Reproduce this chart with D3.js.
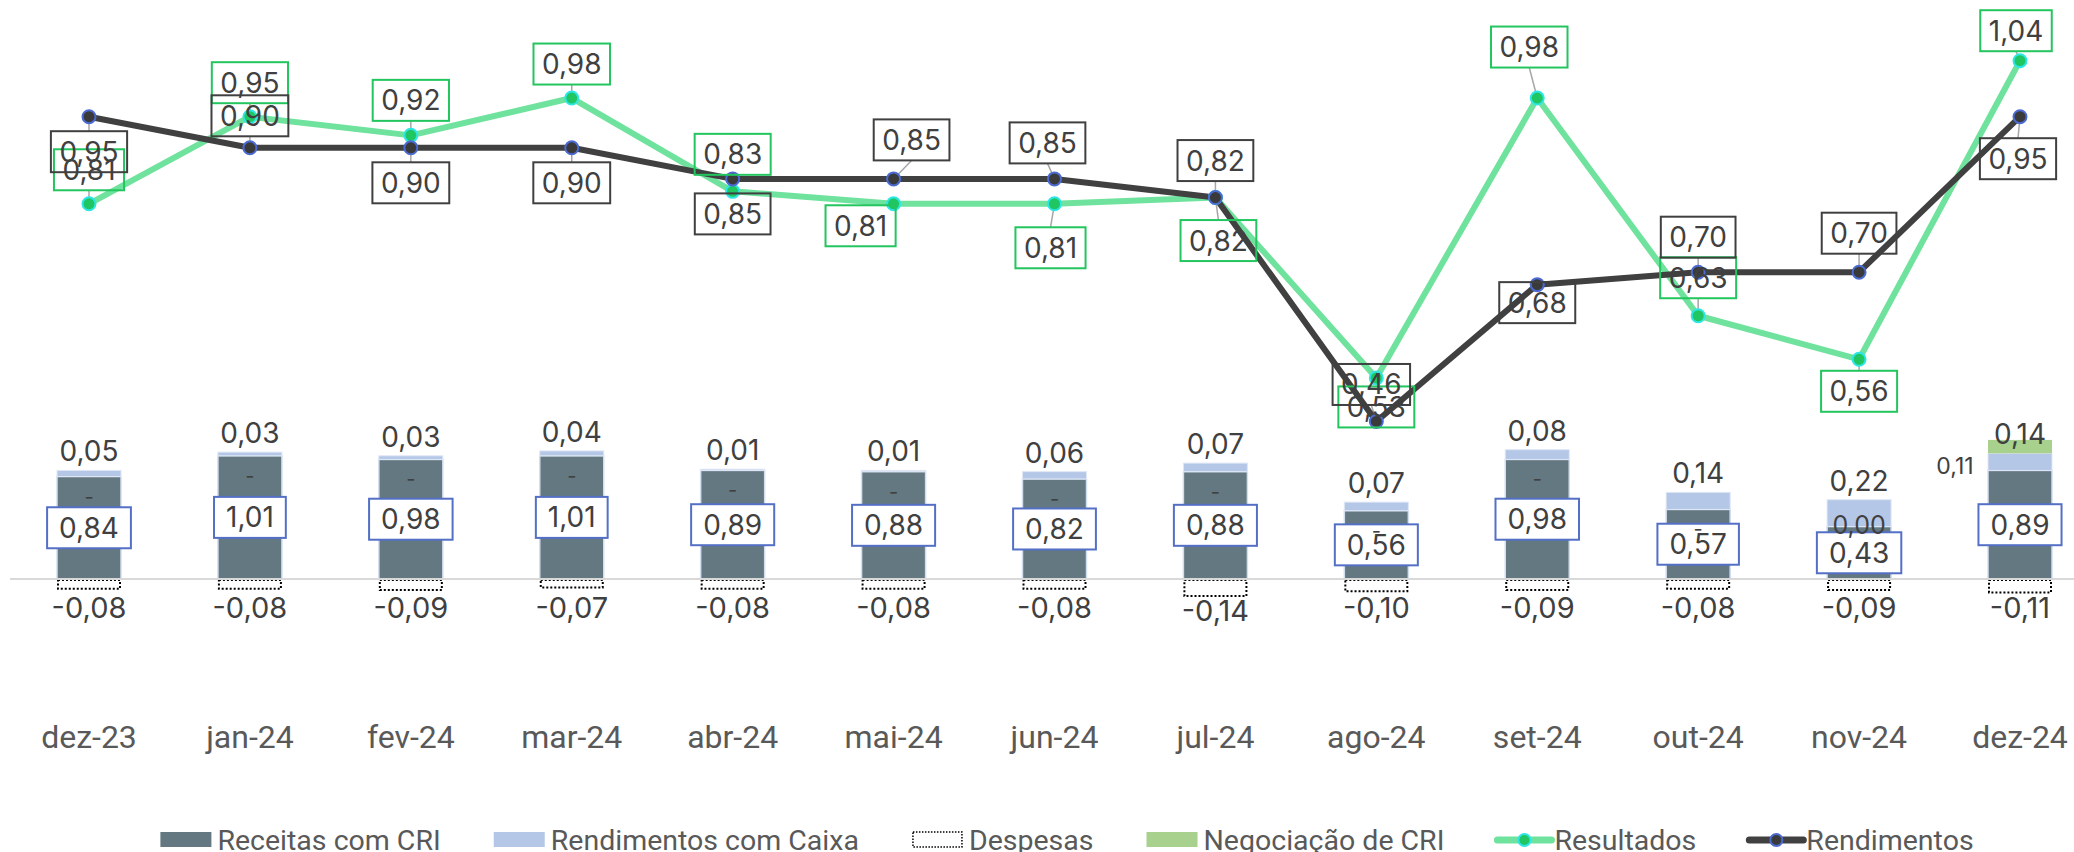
<!DOCTYPE html>
<html>
<head>
<meta charset="utf-8">
<script src="https://cdn.jsdelivr.net/npm/d3@7"></script>
<style>
  body { margin: 0; background: #fff; }
  svg { display: block; }
</style>
</head>
<body>
<script>
// categories
var months = ["dez-23", "jan-24", "fev-24", "mar-24", "abr-24", "mai-24", "jun-24",
              "jul-24", "ago-24", "set-24", "out-24", "nov-24", "dez-24"];

// stacked bars (R$ por cota)
var receitasCRI = [0.84, 1.01, 0.98, 1.01, 0.89, 0.88, 0.82, 0.88, 0.56, 0.98, 0.57, 0.43, 0.89];
var rendCaixa   = [0.05, 0.03, 0.03, 0.04, 0.01, 0.01, 0.06, 0.07, 0.07, 0.08, 0.14, 0.22, 0.14];
var despesas    = [-0.08, -0.08, -0.09, -0.07, -0.08, -0.08, -0.08, -0.14, -0.10, -0.09, -0.08, -0.09, -0.11];
var negociacao  = [0, 0, 0, 0, 0, 0, 0, 0, 0, 0, 0, 0.004, 0.11];

// lines
var resultados  = [0.81, 0.95, 0.92, 0.98, 0.83, 0.81, 0.81, 0.82, 0.53, 0.98, 0.63, 0.56, 1.04];
var rendimentos = [0.95, 0.90, 0.90, 0.90, 0.85, 0.85, 0.85, 0.82, 0.46, 0.68, 0.70, 0.70, 0.95];

// where the line labels sit relative to their point (px)
var resLabelDx  = [0, 0, 0, 0, 0, -33, -4, 3, 0, -8, 0, 0, -4];
var resLabelDy  = [-34, -34, -35, -34, -37, 22, 44, 43, 29, -51, -38, 32, -30];
var rendLabelDx = [0, 0, 0, 0, 0, 18, -7, 0, -5, 0, 0, 0, -2];
var rendLabelDy = [35, -32, 35, 35, 35, -39, -36, -37, -37, 18, -35, -39, 42];

var legendItems = ["Receitas com CRI", "Rendimentos com Caixa", "Despesas",
                   "Negociação de CRI", "Resultados", "Rendimentos"];

var w = 2074, h = 852;
var labelFont = "Inter, 'Noto Sans', sans-serif";
var axisFont = "Roboto, 'Liberation Sans', sans-serif";
var textColor = "#404040";

function fmt(v) {
    return (v < 0 ? "-" : "") + Math.abs(v).toFixed(2).replace(".", ",");
}

var svg = d3.select("body").append("svg")
    .attr("width", w)
    .attr("height", h);

// scales
var x = d3.scalePoint().domain(months).range([89, 2020]);
var barW = 64;
var yBar = d3.scaleLinear().domain([0, 1]).range([579, 457]);
var yLine = d3.scaleLinear().domain([0, 1]).range([707.6, 85.6]);

// stacked bars
var bars = svg.append("g");
months.forEach(function (m, i) {
    var cx = x(m);
    var top1 = yBar(receitasCRI[i]);
    var top2 = yBar(receitasCRI[i] + rendCaixa[i]);
    var top3 = yBar(receitasCRI[i] + rendCaixa[i] + negociacao[i]);

    bars.append("rect")
        .attr("x", cx - barW / 2).attr("y", top1)
        .attr("width", barW).attr("height", yBar(0) - top1)
        .attr("fill", "#637880")
        .attr("stroke", "#d3ddf0").attr("stroke-width", 1.5);
    bars.append("rect")
        .attr("x", cx - barW / 2).attr("y", top2)
        .attr("width", barW).attr("height", top1 - top2)
        .attr("fill", "#b4c7e7")
        .attr("stroke", "#dfe7f5").attr("stroke-width", 1);
    if (top2 - top3 > 0.5) {
        bars.append("rect")
            .attr("x", cx - barW / 2).attr("y", top3)
            .attr("width", barW).attr("height", top2 - top3)
            .attr("fill", "#a9d18e");
    }
    // despesas (negative)
    bars.append("rect")
        .attr("x", cx - barW / 2 + 1).attr("y", yBar(0) + 1)
        .attr("width", barW - 2).attr("height", yBar(despesas[i]) - yBar(0) - 1)
        .attr("fill", "#fff")
        .attr("stroke", "#000").attr("stroke-width", 2)
        .attr("stroke-dasharray", "2,2");
});

// baseline
svg.append("line")
    .attr("x1", 10).attr("x2", w)
    .attr("y1", yBar(0)).attr("y2", yBar(0))
    .attr("stroke", "#d9d9d9").attr("stroke-width", 2);

// bar labels
var barLabels = svg.append("g")
    .attr("font-family", labelFont)
    .attr("fill", textColor)
    .attr("text-anchor", "middle")
    .attr("dominant-baseline", "central");

// receitas com CRI (boxed) first, the other labels go over them
months.forEach(function (m, i) {
    var top1 = yBar(receitasCRI[i]);
    var g = barLabels.append("g")
        .attr("transform", "translate(" + x(m) + "," + (top1 + yBar(0)) / 2 + ")");
    var t = g.append("text").attr("font-size", 28).text(fmt(receitasCRI[i]));
    var tw = t.node().getComputedTextLength() + 24;
    g.insert("rect", "text")
        .attr("x", -tw / 2).attr("y", -20.5)
        .attr("width", tw).attr("height", 41)
        .attr("fill", "#fff")
        .attr("stroke", "#5470c6").attr("stroke-width", 2);
});

months.forEach(function (m, i) {
    var cx = x(m);
    var top1 = yBar(receitasCRI[i]);
    var top2 = yBar(receitasCRI[i] + rendCaixa[i]);
    var top3 = yBar(receitasCRI[i] + rendCaixa[i] + negociacao[i]);

    // negociação
    if (negociacao[i] === 0) {
        barLabels.append("text").attr("x", cx).attr("y", top1 + 20)
            .attr("font-size", 20).text("-");
    } else if (top2 - top3 > 8) {
        barLabels.append("text").attr("x", cx - 65).attr("y", top1 - 4)
            .attr("font-size", 23).text(fmt(negociacao[i]));
    } else {
        barLabels.append("text").attr("x", cx).attr("y", top1 - 2)
            .attr("font-size", 25).text(fmt(negociacao[i]));
    }

    // rendimentos com caixa
    barLabels.append("text").attr("x", cx).attr("y", top2 - 19)
        .attr("font-size", 28).text(fmt(rendCaixa[i]));

    // despesas
    barLabels.append("text").attr("x", cx).attr("y", Math.max(yBar(despesas[i]) + 14, 607))
        .attr("font-size", 29).text(fmt(despesas[i]));
});

// lines
var series = [
    { name: "Resultados", values: resultados, dx: resLabelDx, dy: resLabelDy,
      line: "#6fe39d", dotFill: "#1fc662", dotStroke: "#2ee6e6", box: "#23c55e", width: 6 },
    { name: "Rendimentos", values: rendimentos, dx: rendLabelDx, dy: rendLabelDy,
      line: "#404040", dotFill: "#3a3a3a", dotStroke: "#4b6bd3", box: "#404040", width: 6 }
];

var line = d3.line()
    .x(function (d, i) { return x(months[i]); })
    .y(function (d) { return yLine(d); });

// leader lines
var leaders = svg.append("g");
series.forEach(function (s) {
    s.values.forEach(function (v, i) {
        var dx = s.dx[i], dy = s.dy[i];
        if (Math.abs(dy) - 20.5 > 10 || dx !== 0) {
            var px = x(months[i]), py = yLine(v);
            leaders.append("line")
                .attr("x1", px).attr("y1", py)
                .attr("x2", px + dx).attr("y2", py + dy + (dy < 0 ? 20.5 : -20.5))
                .attr("stroke", "#a6a6a6").attr("stroke-width", 1.5);
        }
    });
});

series.forEach(function (s) {
    svg.append("path")
        .datum(s.values)
        .attr("d", line)
        .attr("fill", "none")
        .attr("stroke", s.line)
        .attr("stroke-width", s.width)
        .attr("stroke-linejoin", "round");
});

series.forEach(function (s) {
    svg.append("g").selectAll("circle")
        .data(s.values).enter().append("circle")
        .attr("cx", function (d, i) { return x(months[i]); })
        .attr("cy", function (d) { return yLine(d); })
        .attr("r", 6.5)
        .attr("fill", s.dotFill)
        .attr("stroke", s.dotStroke)
        .attr("stroke-width", 2);
});

// line labels (boxes without fill)
series.forEach(function (s) {
    var lg = svg.append("g")
        .attr("font-family", labelFont)
        .attr("fill", textColor)
        .attr("text-anchor", "middle")
        .attr("dominant-baseline", "central");
    s.values.forEach(function (v, i) {
        var g = lg.append("g")
            .attr("transform", "translate(" + (x(months[i]) + s.dx[i]) + "," + (yLine(v) + s.dy[i]) + ")");
        var t = g.append("text").attr("font-size", 28).text(fmt(v));
        var tw = t.node().getComputedTextLength() + 17;
        g.insert("rect", "text")
            .attr("x", -tw / 2).attr("y", -20.5)
            .attr("width", tw).attr("height", 41)
            .attr("fill", "none")
            .attr("stroke", s.box).attr("stroke-width", 2);
    });
});

// x axis labels
svg.append("g").selectAll("text")
    .data(months).enter().append("text")
    .attr("x", function (d) { return x(d); })
    .attr("y", 737)
    .attr("text-anchor", "middle")
    .attr("dominant-baseline", "central")
    .attr("font-family", axisFont)
    .attr("font-size", 32)
    .attr("fill", "#595959")
    .text(function (d) { return d; });

// legend
var legend = svg.append("g")
    .attr("font-family", axisFont)
    .attr("font-size", 28.5)
    .attr("fill", "#595959");
var lx = 0;
legendItems.forEach(function (name, i) {
    var g = legend.append("g").attr("transform", "translate(" + lx + ",0)");
    if (i < 4) {
        var r = g.append("rect").attr("x", 0).attr("y", -8).attr("width", 51).attr("height", 15);
        if (i === 0) r.attr("fill", "#637880");
        if (i === 1) r.attr("fill", "#b4c7e7");
        if (i === 2) r.attr("fill", "#fff").attr("stroke", "#000").attr("stroke-width", 1.5)
                       .attr("stroke-dasharray", "1.5,1.5").attr("x", 1).attr("width", 49);
        if (i === 3) r.attr("fill", "#a9d18e");
    } else {
        var s = series[i - 4];
        g.append("line").attr("x1", 0).attr("x2", 54).attr("y1", 0).attr("y2", 0)
            .attr("stroke", s.line).attr("stroke-width", 7).attr("stroke-linecap", "round");
        g.append("circle").attr("cx", 27).attr("cy", 0).attr("r", 6)
            .attr("fill", s.dotFill).attr("stroke", s.dotStroke).attr("stroke-width", 2);
    }
    var t = g.append("text").attr("x", 57).attr("y", 0)
        .attr("dominant-baseline", "central").text(name);
    lx += 57 + t.node().getComputedTextLength() + 53;
});
var legendW = lx - 53;
legend.attr("transform", "translate(" + (1067 - legendW / 2) + ",840)");
</script>
</body>
</html>
